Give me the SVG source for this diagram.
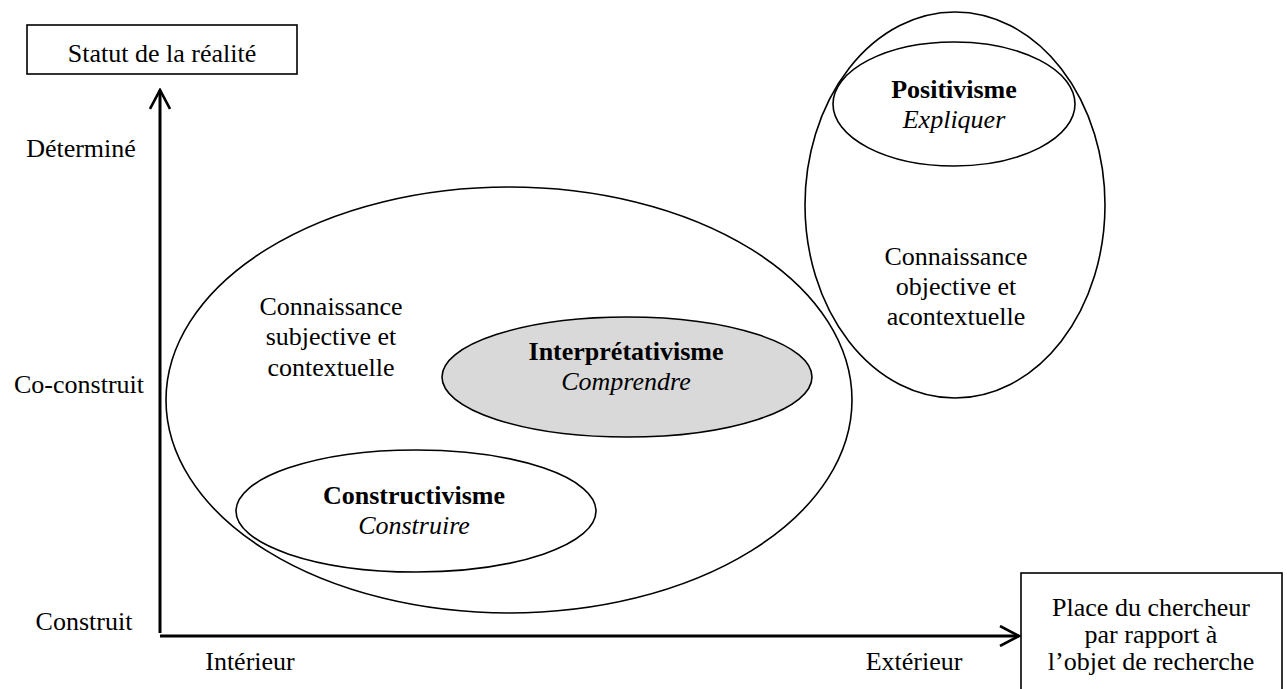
<svg xmlns="http://www.w3.org/2000/svg" width="1287" height="689" viewBox="0 0 1287 689">
<style>
text{font-family:"Liberation Serif","Times New Roman",serif;font-size:26px;fill:#000;text-anchor:middle}
.b{font-weight:bold}
.i{font-style:italic}
.shape{fill:#fff;stroke:#000;stroke-width:1.6}
.none{fill:none;stroke:#000;stroke-width:1.6}
.grey{fill:#d9d9d9;stroke:#000;stroke-width:1.6}
.axis{stroke:#000;stroke-width:3;fill:none}
</style>
<defs>
<marker id="arr" viewBox="0 0 22 22" refX="20" refY="11" markerWidth="22" markerHeight="22" markerUnits="userSpaceOnUse" orient="auto">
<path d="M1,1 L20,11 L1,21" fill="none" stroke="#000" stroke-width="2.6"/>
</marker>
</defs>
<g id="connectors">
<line class="axis" x1="160" y1="633" x2="160" y2="90" marker-end="url(#arr)"/>
<line class="axis" x1="160" y1="636" x2="1019" y2="636" marker-end="url(#arr)"/>
</g>
<g id="box-statut">
<rect class="shape" x="27" y="25" width="270" height="49"/>
<text x="162" y="62">Statut de la réalité</text>
</g>
<g id="label-determine"><text x="81" y="157">Déterminé</text></g>
<g id="label-coconstruit"><text x="79" y="393">Co-construit</text></g>
<g id="label-construit"><text x="84" y="630">Construit</text></g>
<g id="label-interieur"><text x="250" y="670">Intérieur</text></g>
<g id="label-exterieur"><text x="914" y="670">Extérieur</text></g>
<g id="box-place">
<rect class="shape" x="1021" y="573" width="261" height="130"/>
<text x="1151" y="616">Place du chercheur</text>
<text x="1151" y="643">par rapport à</text>
<text x="1151" y="670">l’objet de recherche</text>
</g>
<g id="subjective">
<ellipse class="none" cx="509" cy="400" rx="343" ry="213"/>
<text x="331" y="315">Connaissance</text>
<text x="331" y="345">subjective et</text>
<text x="331" y="376">contextuelle</text>
</g>
<g id="interpretativisme">
<ellipse class="grey" cx="627" cy="377" rx="185" ry="60"/>
<text class="b" x="626" y="360">Interprétativisme</text>
<text class="i" x="626" y="390">Comprendre</text>
</g>
<g id="constructivisme">
<ellipse class="shape" cx="416" cy="511" rx="180" ry="61"/>
<text class="b" x="414" y="504">Constructivisme</text>
<text class="i" x="414" y="534">Construire</text>
</g>
<g id="objective">
<ellipse class="none" cx="955" cy="205" rx="150" ry="193"/>
<text x="956" y="265">Connaissance</text>
<text x="956" y="295">objective et</text>
<text x="956" y="325">acontextuelle</text>
</g>
<g id="positivisme">
<ellipse class="shape" cx="954" cy="104" rx="121" ry="62"/>
<text class="b" x="954" y="98">Positivisme</text>
<text class="i" x="954" y="128">Expliquer</text>
</g>
</svg>
